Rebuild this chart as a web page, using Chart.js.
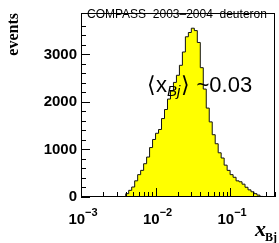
<!DOCTYPE html>
<html>
<head>
<meta charset="utf-8">
<script src="https://cdn.jsdelivr.net/npm/chart.js@4/dist/chart.umd.min.js"></script>
<style>
  html, body { margin: 0; padding: 0; background: #fff; }
  #wrap { width: 279px; height: 243px; }
</style>
</head>
<body>
<div id="wrap"><canvas id="xbjChart" width="279" height="243"></canvas></div>
<script>
// bin edges in log10(x_Bj); last entry closes the last bin
var binEdgesLog = [-2.44, -2.40, -2.36, -2.32, -2.28, -2.24, -2.20, -2.16, -2.12, -2.08,
                   -2.04, -2.00, -1.96, -1.92, -1.88, -1.84, -1.80, -1.76, -1.72, -1.68,
                   -1.64, -1.60, -1.56, -1.52, -1.48, -1.44, -1.40, -1.36, -1.32, -1.28,
                   -1.24, -1.20, -1.16, -1.12, -1.08, -1.04, -1.00, -0.96, -0.92, -0.88,
                   -0.84, -0.80, -0.76, -0.72, -0.68, -0.64, -0.60, -0.56, -0.52];
// events per bin
var eventCounts = [5, 70, 140, 210, 340, 470, 560, 700, 840, 1040,
                   1210, 1340, 1420, 1650, 1840, 2060, 2230, 2410, 2560, 2770,
                   3050, 3370, 3460, 3550, 3500, 3250, 2720, 2270, 1870, 1580,
                   1310, 1120, 930, 820, 670, 560, 470, 415, 340, 320,
                   270, 205, 150, 110, 70, 40, 12, 2];
var yLabels = [0, 1000, 2000, 3000];
var xLabelDecades = [-3, -2, -1];

var histPoints = binEdgesLog.map(function (e, i) {
  return { x: Math.pow(10, e), y: i < eventCounts.length ? eventCounts[i] : 0 };
});

var frameAndTicks = {
  id: 'frameAndTicks',
  afterDraw: function (chart) {
    var ctx = chart.ctx, a = chart.chartArea, xs = chart.scales.x, ys = chart.scales.y;
    ctx.save();
    ctx.strokeStyle = '#000';
    ctx.lineWidth = 1;
    ctx.beginPath();
    ys.ticks.forEach(function (t) {
      if (t.value % 200 !== 0) return;
      var y = Math.round(ys.getPixelForValue(t.value)) + 0.5;
      var len = t.value % 1000 === 0 ? 9 : 5;
      ctx.moveTo(a.left, y);
      ctx.lineTo(a.left + len, y);
    });
    xs.ticks.forEach(function (t) {
      var e = Math.log10(t.value);
      var major = Math.abs(e - Math.round(e)) < 1e-6;
      var m = t.value / Math.pow(10, Math.floor(e + 1e-9));
      if (!major && Math.abs(m - Math.round(m)) > 1e-6) return;
      var x = Math.round(xs.getPixelForValue(t.value)) + 0.5;
      ctx.moveTo(x, a.bottom);
      ctx.lineTo(x, a.bottom - (major ? 9 : 5));
    });
    ctx.stroke();
    ctx.strokeRect(a.left + 0.5, a.top + 0.5, a.right - a.left - 1, a.bottom - a.top - 1);

    ctx.fillStyle = '#000';
    ctx.textBaseline = 'alphabetic';
    ctx.textAlign = 'left';

    // x tick labels 10^n with a real superscript
    xLabelDecades.forEach(function (e) {
      var px = xs.getPixelForValue(Math.pow(10, e));
      ctx.font = 'bold 15px "Liberation Sans"';
      var w1 = ctx.measureText('10').width;
      ctx.font = 'bold 11px "Liberation Sans"';
      var w2 = ctx.measureText(String(e).replace('-', '\u2212')).width;
      var x0 = px + 2 - (w1 + w2) / 2;
      ctx.font = 'bold 15px "Liberation Sans"';
      ctx.fillText('10', x0, 224);
      ctx.font = 'bold 11px "Liberation Sans"';
      ctx.fillText(String(e).replace('-', '\u2212'), x0 + w1, 216);
    });

    ctx.font = '12px "Liberation Sans"';
    ctx.fillText('COMPASS  2003\u20132004  deuteron', 87, 18);

    // <x_Bj> ~0.03
    var x = 147, base = 92;
    ctx.font = '22px "Liberation Sans"';
    ctx.fillText('\u27E8x', x, base);
    x += ctx.measureText('\u27E8x').width;
    ctx.font = 'italic 15px "Liberation Sans"';
    ctx.fillText('Bj', x, base + 4);
    x += ctx.measureText('Bj').width + 1;
    ctx.font = '22px "Liberation Sans"';
    ctx.fillText('\u27E9 ~0.03', x, base);

    // axis title x_Bj
    ctx.font = 'italic bold 22px "Liberation Serif"';
    ctx.fillText('x', 255, 236);
    ctx.font = 'bold 12px "Liberation Serif"';
    ctx.fillText('Bj', 265, 241);
    ctx.restore();
  }
};

new Chart(document.getElementById('xbjChart'), {
  type: 'line',
  data: {
    datasets: [{
      data: histPoints,
      stepped: true,
      fill: 'origin',
      backgroundColor: '#ffff00',
      borderColor: '#111',
      borderWidth: 1,
      pointRadius: 0,
      tension: 0
    }]
  },
  options: {
    responsive: false,
    animation: false,
    events: [],
    layout: { padding: { top: 7, right: 4, left: 0, bottom: 0 } },
    plugins: { legend: { display: false }, tooltip: { enabled: false } },
    scales: {
      x: {
        type: 'logarithmic',
        min: 0.001,
        max: 0.4,
        grid: { display: false, drawTicks: false },
        border: { display: false },
        afterFit: function (s) { s.height = 46; },
        ticks: {
          autoSkip: false,
          maxRotation: 0,
          callback: function () { return ''; }
        }
      },
      y: {
        min: 0,
        max: 3870,
        grid: { display: false, drawTicks: false },
        border: { display: false },
        afterFit: function (s) { s.width = 81; },
        title: {
          display: true,
          text: 'events',
          align: 'end',
          color: '#000',
          padding: { top: 4, bottom: 0 },
          font: { family: '"Liberation Serif"', size: 16, weight: 'bold' }
        },
        ticks: {
          stepSize: 200,
          autoSkip: false,
          padding: 4,
          color: '#000',
          font: { family: '"Liberation Sans"', size: 15, weight: 'bold' },
          callback: function (v) { return yLabels.indexOf(v) >= 0 ? String(v) : ''; }
        }
      }
    }
  },
  plugins: [frameAndTicks]
});
</script>
</body>
</html>
